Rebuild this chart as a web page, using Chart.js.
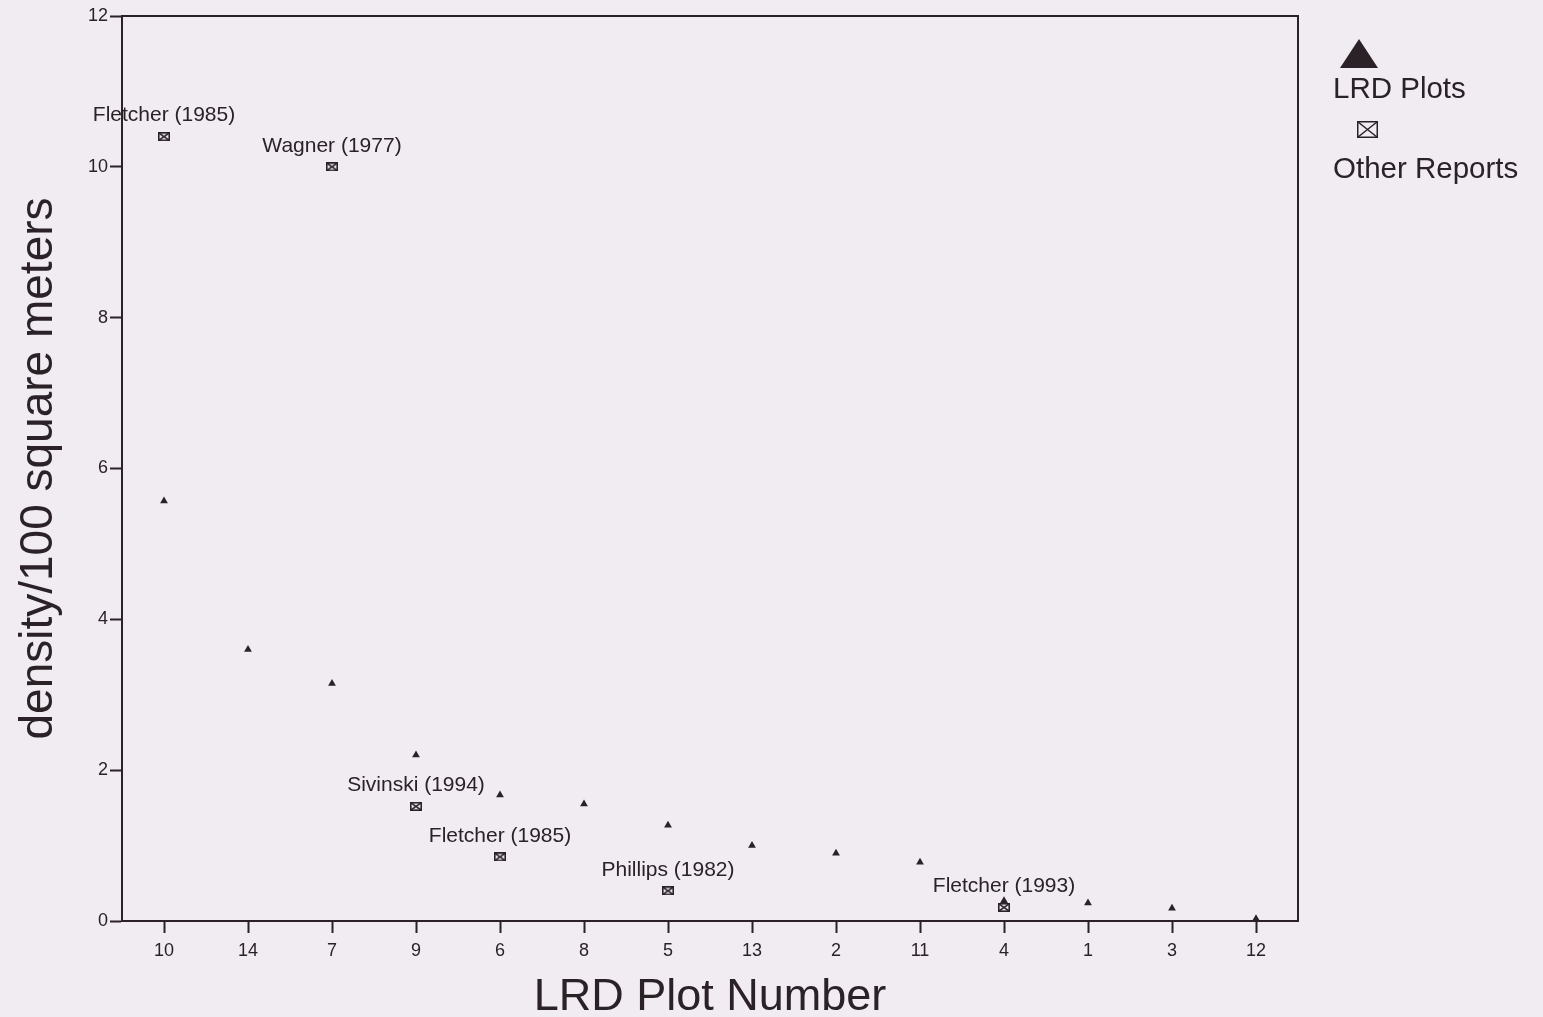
<!DOCTYPE html>
<html>
<head>
<meta charset="utf-8">
<script src="https://cdn.jsdelivr.net/npm/chart.js@4"></script>
<style>
  html, body { margin: 0; padding: 0; background: #f0ecf1; }
  #wrap { width: 1543px; height: 1017px; position: relative; }
</style>
</head>
<body>
<div id="wrap"><canvas id="c" width="1543" height="1017"></canvas></div>
<script>
// ---- data ----
const categories = ['10', '14', '7', '9', '6', '8', '5', '13', '2', '11', '4', '1', '3', '12'];
const lrdValues = [5.57, 3.6, 3.15, 2.2, 1.67, 1.55, 1.27, 1.0, 0.9, 0.78, 0.27, 0.24, 0.17, 0.03];
const otherCategories = ['10', '7', '9', '6', '5', '4'];
const otherValues = [10.4, 10.0, 1.52, 0.85, 0.4, 0.18];
const otherLabels = ['Fletcher (1985)', 'Wagner (1977)', 'Sivinski (1994)', 'Fletcher (1985)', 'Phillips (1982)', 'Fletcher (1993)'];
const yTicks = [0, 2, 4, 6, 8, 10, 12];
const seriesNames = ['LRD Plots', 'Other Reports'];

const INK = '#2b2228';
const FONT = '"Liberation Sans", Arial, Helvetica, sans-serif';

function boxX(w, h, lw) {
  const c = document.createElement('canvas');
  c.width = w; c.height = h;
  const g = c.getContext('2d');
  g.strokeStyle = INK; g.lineWidth = lw;
  const o = lw / 2;
  g.strokeRect(o, o, w - lw, h - lw);
  g.beginPath();
  g.moveTo(o, o); g.lineTo(w - o, h - o);
  g.moveTo(w - o, o); g.lineTo(o, h - o);
  g.stroke();
  return c;
}
const boxPoint = boxX(12, 9, 1.6);
const boxLegend = boxX(21, 17, 1.5);

const annot = {
  id: 'annot',
  afterDatasetsDraw(chart) {
    const ctx = chart.ctx;
    const ca = chart.chartArea;
    ctx.save();
    // frame
    ctx.strokeStyle = INK; ctx.lineWidth = 2;
    ctx.beginPath();
    ctx.moveTo(ca.left, ca.top); ctx.lineTo(ca.right, ca.top); ctx.lineTo(ca.right, ca.bottom);
    ctx.stroke();
    // point labels
    const meta = chart.getDatasetMeta(1);
    ctx.fillStyle = INK;
    ctx.font = '21px ' + FONT;
    ctx.textAlign = 'center'; ctx.textBaseline = 'middle';
    meta.data.forEach((p, i) => {
      ctx.fillText(otherLabels[i], p.x, p.y - 21);
    });
    // legend
    const lx = ca.right + 35;
    ctx.beginPath();
    ctx.moveTo(ca.right + 61, 39);
    ctx.lineTo(ca.right + 80, 68);
    ctx.lineTo(ca.right + 42, 68);
    ctx.closePath();
    ctx.fill();
    ctx.font = '29.5px ' + FONT;
    ctx.textAlign = 'left';
    ctx.fillText(seriesNames[0], lx, 90);
    ctx.drawImage(boxLegend, ca.right + 59, 121);
    ctx.fillText(seriesNames[1], lx, 170);
    ctx.restore();
  }
};

new Chart(document.getElementById('c'), {
  type: 'line',
  data: {
    labels: categories,
    datasets: [
      {
        label: seriesNames[0],
        data: lrdValues,
        showLine: false,
        pointStyle: 'triangle',
        pointRadius: 4.5,
        pointBackgroundColor: INK,
        pointBorderColor: INK,
        pointBorderWidth: 0
      },
      {
        label: seriesNames[1],
        data: otherCategories.map((c, i) => ({ x: c, y: otherValues[i] })),
        showLine: false,
        pointStyle: boxPoint,
        pointRadius: 6
      }
    ]
  },
  options: {
    responsive: false,
    animation: false,
    layout: { padding: { left: 0, top: 16, right: 245, bottom: 0 } },
    plugins: { legend: { display: false }, tooltip: { enabled: false } },
    scales: {
      x: {
        type: 'category',
        offset: true,
        grid: { offset: false, drawOnChartArea: false, tickLength: 12, tickColor: INK, tickWidth: 2 },
        border: { color: INK, width: 2 },
        ticks: { color: INK, font: { family: FONT, size: 18 }, padding: 7, maxRotation: 0, autoSkip: false },
        title: { display: true, text: 'LRD Plot Number', color: INK, font: { family: FONT, size: 45, lineHeight: 1 }, padding: { top: 0, bottom: -3 } },
        afterFit(s) { s.height = 96; }
      },
      y: {
        min: 0, max: 12,
        afterBuildTicks(s) { s.ticks = yTicks.map(v => ({ value: v })); },
        grid: { drawOnChartArea: false, tickLength: 12, tickColor: INK, tickWidth: 2 },
        border: { color: INK, width: 2 },
        ticks: { color: INK, font: { family: FONT, size: 18 }, padding: 2 },
        title: { display: true, text: 'density/100 square meters', color: INK, font: { family: FONT, size: 46, lineHeight: 1 }, padding: { top: 16, bottom: 0 } },
        afterFit(s) { s.width = 122; }
      }
    }
  },
  plugins: [annot]
});
</script>
</body>
</html>
